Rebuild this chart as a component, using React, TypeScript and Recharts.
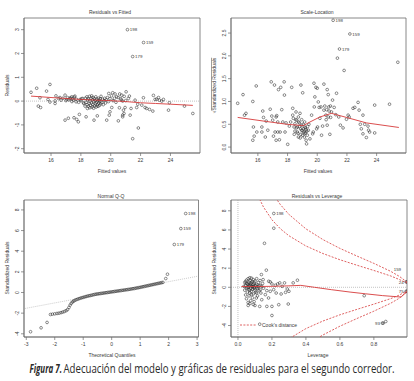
import React from 'react';
import { ScatterChart, Scatter, XAxis, YAxis, ReferenceLine, ReferenceArea } from 'recharts';

const FONT = '"Liberation Sans", Arial, Helvetica, sans-serif';
const TXT = '#3a3a3a';
const INK = '#2e2e2e';
const BOX = '#6a6a6a';
const RED = '#d63a3a';

// ---------- Residuals vs Fitted ----------
const rvfPoints: number[][] = [
  [14.66,0.37],[15.04,0.54],[15.26,0.14],[15.15,-0.21],[15.3,-0.27],[15.7,0.42],[15.93,0.7],[15.8,0.07],[15.93,-0.04],
  [16.27,0.01],[16.33,0.22],[16.5,0.11],[16.27,-0.1],[16.67,0.04],[16.94,-0.8],[17.16,-0.72],[16.94,0.25],[17.05,0.07],
  [17.27,0.1],[17.39,0.18],[17.5,0.04],[17.6,0.21],[17.54,-0.7],[17.72,-0.77],[17.83,-0.87],[17.9,-0.56],[17.68,-0.03],
  [17.95,0.07],[18.12,0.11],[18.17,-0.07],[18.28,-0.21],[18.35,-0.66],[18.44,-0.31],[18.88,-0.8],[19.1,-0.62],[19.73,-0.8],
  [19.9,-0.59],[19.95,-0.45],[20.07,-0.27],[19.87,0.32],[20.13,0.35],[20.29,0.3],[20.4,0.18],[20.51,-0.83],[20.58,-0.28],
  [20.67,0.1],[20.74,0.25],[20.8,0],[20.85,-0.38],[20.8,-0.66],[20.8,-0.59],[20.89,-0.52],[20.96,-0.27],[21.03,0.39],
  [21.18,0.11],[21.25,0.21],[21.3,-0.59],[21.36,-0.31],[21.47,-1.58],[21.63,0.04],[21.74,-0.27],[21.81,-0.13],[21.85,-1.13],
  [22.08,-0.17],[22.19,0.14],[22.3,-0.27],[22.41,-0.31],[22.6,-0.35],[22.82,-0.42],[22.86,0.24],[22.97,0.07],[23.08,0.08],
  [23.2,0.15],[23.26,0.04],[23.42,0],[23.53,0.07],[23.87,-0.38],[23.93,-0.07],[24.94,-0.21],[25.5,-0.52],
  [18.3,0.12],[18.35,-0.05],[18.4,0.18],[18.42,-0.15],[18.45,0.05],[18.5,-0.22],[18.5,0.1],[18.55,-0.1],[18.58,0.2],
  [18.6,-0.28],[18.62,0.0],[18.65,-0.18],[18.68,0.12],[18.7,-0.08],[18.72,0.22],[18.75,-0.25],[18.78,0.05],[18.8,-0.14],
  [18.82,0.15],[18.85,-0.3],[18.87,-0.02],[18.9,0.1],[18.92,-0.2],[18.95,0.02],[18.97,-0.12],[19.0,0.18],[19.02,-0.25],
  [19.05,-0.05],[19.08,0.08],[19.1,-0.16],[19.12,0.0],[19.15,-0.22],[19.18,0.12],[19.2,-0.08],[19.23,0.04],[19.25,-0.18],
  [19.28,-0.02],[19.3,0.1],[19.33,-0.12],[19.35,0.2],[19.4,-0.05],[19.45,0.08],[19.5,-0.15],[19.55,0.02],[19.6,0.12],
  [19.65,-0.08],[19.7,0.05],[19.78,0.15],[19.85,-0.02],[19.95,0.1],[20.05,0.22],[20.15,0.02],[20.25,0.12],[20.35,-0.05],
  [20.5,0.15],[20.6,0.3],[20.7,0.05],[20.9,0.2],[21.0,0.02],
  [16.6,0.15],[16.8,0.12],[17.0,0.02],[17.1,0.15],[17.2,0.05],[17.3,0.14],[17.4,-0.02],[17.45,0.1],[17.55,0.17],
  [17.7,0.08],[17.85,-0.05],[18.0,0.02],[18.05,0.1],[18.2,-0.1],
];
const rvfLabeled: (number | string)[][] = [[21.12, 3.0, '198'], [22.2, 2.46, '159'], [21.47, 1.87, '179']];
const rvfSmooth: number[][] = [[14.66,0.21],[16,0.15],[17,0.11],[18,0.07],[19,0.04],[20,0.02],[21,-0.02],[22,-0.07],[23,-0.1],[24,-0.13],[25.5,-0.18]];
const rvfXTicks = [16, 18, 20, 22, 24];
const rvfYTicks = [-2, -1, 0, 1, 2, 3];

// ---------- Scale-Location ----------
const slPoints: number[][] = [
  [14.64,0.96],[15.0,1.15],[15.1,0.7],[15.2,0.74],[15.66,1.0],[15.89,1.34],[15.7,0.44],[15.75,0.24],[15.66,0.15],[15.93,0.33],
  [16.27,0.44],[16.27,0.33],[16.33,0.79],[16.38,0.65],[16.5,0.22],[16.56,0.57],[16.67,0.37],[16.83,0.83],[16.9,1.43],[16.94,0.68],
  [17.0,0.59],[17.05,0.24],[17.12,1.36],[17.16,0.33],[17.23,0.15],[17.23,0.66],[17.27,0.69],[17.34,0.33],[17.34,0.55],[17.39,1.26],
  [17.45,0.16],[17.5,0.33],[17.54,1.31],[17.61,0.82],[17.68,0.55],[17.77,1.43],[17.79,1.14],[17.83,0.33],[17.9,0.53],[18.01,0.06],
  [18.12,0.46],[18.21,0.55],[18.28,1.31],[18.35,0.85],[18.35,0.7],[18.39,0.63],[18.44,0.44],[18.5,0.51],[18.57,0.77],[18.61,0.59],
  [18.66,0.33],[18.66,0.44],[18.73,0.66],[18.73,0.22],[18.79,0.53],[18.84,0.74],[18.88,0.4],[18.9,1.36],[18.95,0.37],[18.95,0.48],
  [19.02,0.26],[19.02,1.19],[19.06,0.4],[19.1,0.33],[19.13,0.22],[19.17,0.44],[19.22,0.31],[19.24,0.38],[19.28,0.07],[19.33,0.26],
  [19.4,0.37],[19.44,0.5],[19.51,0.18],[19.62,0.7],[19.69,0.29],[19.73,0.33],[19.78,1.4],[19.8,0.88],[19.84,1.1],[19.91,1.31],
  [19.96,0.4],[20.0,1.29],[20.02,0.44],[20.07,0.99],[20.13,0.87],[20.18,0.63],[20.25,0.88],[20.29,0.26],[20.36,0.46],[20.45,1.38],
  [20.45,0.81],[20.51,0.9],[20.58,0.7],[20.63,0.82],[20.67,1.26],[20.67,0.48],[20.74,1.15],[20.74,0.66],[20.78,0.88],[20.8,0.79],
  [20.85,0.28],[20.89,0.9],[20.96,0.77],[21.03,1.03],[21.14,0.87],[21.25,0.71],[21.3,1.18],[21.36,1.95],[21.45,0.66],[21.56,0.48],
  [21.74,0.42],[21.81,1.68],[21.97,0.61],[22.08,0.7],[22.15,0.66],[22.41,0.85],[22.53,0.87],[22.75,0.98],[22.82,0.81],[22.9,0.5],
  [22.97,0.4],[23.08,0.7],[23.08,0.29],[23.2,0.5],[23.31,0.21],[23.42,0.46],[23.46,0.37],[23.53,0.33],[23.87,0.92],[23.87,0.31],
  [24.87,0.94],[25.43,1.86],
  [18.5,0.35],[18.6,0.42],[18.7,0.3],[18.8,0.45],[18.9,0.28],[19.0,0.36],[19.05,0.5],[19.15,0.3],[19.2,0.42],[19.3,0.35],
  [18.55,0.6],[18.75,0.55],[18.95,0.6],[19.15,0.55],[19.35,0.45],[18.45,0.28],[18.85,0.2],[19.25,0.15],[20.6,0.6],[20.9,0.65],
];
const slLabeled: (number | string)[][] = [[21.07, 2.78, '198'], [22.2, 2.48, '159'], [21.5, 2.15, '179']];
const slSmooth: number[][] = [[14.64,0.65],[16.6,0.56],[17.95,0.5],[19.06,0.47],[19.51,0.55],[20.18,0.66],[20.96,0.74],[21.97,0.65],[23.31,0.53],[25.5,0.43]];
const slYTicks = [0, 0.5, 1, 1.5, 2, 2.5];

// ---------- Normal Q-Q ----------
const qqPoints: number[][] = [
  [-2.85,-3.8],[-2.48,-3.42],[-2.27,-2.9],[-2.15,-2.13],[-2.08,-2.1],[-2.0,-2.07],[-1.92,-2.03],[-1.85,-2.0],[-1.78,-1.95],
  [-1.72,-1.9],[-1.66,-1.84],[-1.6,-1.76],[-1.55,-1.66],[-1.5,-1.45],[-1.46,-1.22],[-1.42,-1.05],[-1.38,-0.93],[-1.34,-0.84],
  [-1.3,-0.77],[-1.25,-0.7],[-1.2,-0.65],[-1.15,-0.6],[-1.1,-0.55],[-1.05,-0.51],[-1.0,-0.47],[-0.95,-0.43],[-0.9,-0.39],
  [-0.85,-0.35],[-0.8,-0.32],[-0.75,-0.29],[-0.7,-0.26],[-0.65,-0.22],[-0.6,-0.19],[-0.55,-0.16],[-0.5,-0.14],[-0.45,-0.12],
  [-0.4,-0.1],[-0.35,-0.08],[-0.3,-0.06],[-0.25,-0.04],[-0.2,-0.02],[-0.15,0.0],[-0.1,0.02],[-0.05,0.04],[0,0.06],[0.05,0.08],
  [0.1,0.1],[0.15,0.12],[0.2,0.14],[0.25,0.16],[0.3,0.18],[0.35,0.2],[0.4,0.22],[0.45,0.24],[0.5,0.26],[0.55,0.28],[0.6,0.3],
  [0.65,0.32],[0.7,0.35],[0.75,0.37],[0.8,0.39],[0.85,0.42],[0.9,0.45],[0.95,0.47],[1.0,0.5],[1.05,0.53],[1.1,0.56],[1.15,0.59],
  [1.2,0.62],[1.25,0.65],[1.3,0.68],[1.35,0.71],[1.4,0.74],[1.45,0.77],[1.5,0.8],[1.55,0.83],[1.6,0.86],[1.65,0.89],[1.7,0.92],
  [1.75,0.95],[1.8,0.98],[1.9,1.35],[1.96,1.77],
];
const qqLabeled: (number | string)[][] = [[2.6, 7.65, '198'], [2.43, 6.19, '159'], [2.2, 4.65, '179']];
const qqLine: number[][] = [[-3.05, -1.55], [3.03, 1.58]];
const qqXTicks = [-3, -2, -1, 0, 1, 2, 3];
const stdYTicks = [-4, -2, 0, 2, 4, 6, 8];

// ---------- Residuals vs Leverage ----------
const levPoints: number[][] = [
  [0.211,6.18],[0.156,4.6],[0.167,1.79],[0.181,0.63],[0.19,0.56],[0.138,1.33],[0.148,0.8],[0.2,0.35],[0.22,0.21],[0.234,0.35],
  [0.246,0.46],[0.26,0.1],[0.274,0.46],[0.29,-0.18],[0.3,-0.42],[0.28,-0.53],[0.254,-0.7],[0.225,-0.6],[0.21,-0.25],[0.19,-0.42],
  [0.17,-0.35],[0.161,-0.77],[0.18,-1.12],[0.17,-2.0],[0.2,-2.0],[0.24,-1.82],[0.296,-1.75],[0.2,-2.95],[0.128,-3.86],[0.325,0.46],
  [0.35,0.74],[0.743,-0.88],[0.855,-3.75],[0.87,-3.58],[0.112,-0.07],[0.122,0.17],[0.132,-0.25],[0.108,-1.12],[0.128,-2.0],
  [0.035,0.1],[0.04,-0.3],[0.04,0.5],[0.045,-0.8],[0.045,0.2],[0.05,0.75],[0.05,-0.1],[0.05,-1.2],[0.055,0.35],[0.055,-0.5],
  [0.06,0.9],[0.06,0.0],[0.06,-1.6],[0.065,0.55],[0.065,-0.25],[0.065,-0.9],[0.07,0.2],[0.07,0.7],[0.07,-0.6],[0.075,0.4],
  [0.075,-0.1],[0.075,-1.4],[0.08,0.95],[0.08,0.1],[0.08,-0.4],[0.085,0.6],[0.085,-0.2],[0.085,-1.1],[0.09,0.3],[0.09,-0.7],
  [0.09,0.8],[0.095,0.0],[0.095,0.45],[0.1,-0.3],[0.1,0.65],[0.1,-1.9],[0.105,0.15],[0.105,-0.5],[0.11,0.9],[0.11,0.3],
  [0.115,-0.15],[0.115,-0.9],[0.12,0.5],[0.12,0.05],[0.125,-0.35],[0.13,0.7],[0.13,0.2],[0.135,-0.6],[0.14,0.1],[0.14,-1.3],
  [0.145,0.4],[0.15,-0.1],[0.06,0.3],[0.07,-0.3],[0.08,0.5],[0.09,0.1],[0.1,0.2],[0.065,0.15],[0.075,0.25],[0.085,0.05],
  [0.095,-0.1],[0.055,-0.05],[0.045,0.6],[0.05,0.4],[0.07,1.0],[0.08,-0.75],[0.095,-1.5],[0.11,-0.6],[0.06,-1.9],[0.07,-1.7],
  [0.09,-1.8],[0.995,0.56],[0.995,-0.42],
];
const levLabeled: (number | string)[][] = [[0.211, 7.72, '198', 'r'], [0.96, 1.9, '159', 't'], [0.99, 0.56, '24', 'l'], [0.99, -0.42, '75', 'l'], [0.85, -3.75, '93', 'l']];
const levSmooth: number[][] = [[0.02,0.08],[0.1,0.08],[0.2,0.1],[0.3,0.15],[0.37,0.2],[0.45,0.0],[0.55,-0.25],[0.66,-0.5],[0.75,-0.68],[0.85,-0.87],[0.96,-1.02],[0.995,-0.45]];
const cookHalfUp: number[][] = [[0.12,9.55],[0.13,9.13],[0.15,8.4],[0.2,7.06],[0.25,6.11],[0.3,5.39],[0.4,4.32],[0.5,3.53],[0.6,2.88],[0.7,2.31],[0.8,1.76],[0.9,1.18],[0.95,0.81],[0.995,0.45]];
const cookOneUp: number[][] = [[0.2,9.98],[0.22,9.4],[0.25,8.64],[0.3,7.62],[0.4,6.11],[0.5,4.99],[0.6,4.07],[0.7,3.27],[0.8,2.5],[0.9,1.66],[0.95,1.14],[0.995,0.55]];
const cookHalfDown: number[][] = [[0.29,-5.55],[0.3,-5.39],[0.4,-4.32],[0.5,-3.53],[0.6,-2.88],[0.7,-2.31],[0.8,-1.76],[0.9,-1.18],[0.95,-0.81],[0.995,-0.38]];
const cookOneDown: number[][] = [[0.45,-5.52],[0.5,-4.99],[0.6,-4.07],[0.7,-3.27],[0.8,-2.5],[0.9,-1.66],[0.95,-1.14],[0.995,-0.45]];
const levXTicks = [0, 0.2, 0.4, 0.6, 0.8];

// ---------- helpers ----------
const pts = (a: number[][]) => a.map(([x, y]) => ({ x, y }));
const lab = (a: (number | string)[][]) => a.map(([x, y, id, side]) => ({ x, y, id, side: side || 'r' }));

const Ring = (p: any) => (
  <circle cx={p.cx} cy={p.cy} r={1.35} fill="none" stroke={INK} strokeWidth={0.55} />
);
const Nothing = () => <g />;
const LabeledRing = (p: any) => {
  const side = p.payload.side;
  if (side === 't') {
    return (
      <text x={p.cx} y={p.cy + 1.6} fontSize={4.4} fill={TXT} fontFamily={FONT} textAnchor="end">{p.payload.id}</text>
    );
  }
  const left = side === 'l';
  return (
    <g>
      <circle cx={p.cx} cy={p.cy} r={1.35} fill="none" stroke={INK} strokeWidth={0.55} />
      <text x={p.cx + (left ? -2.4 : 2.4)} y={p.cy + 1.6} fontSize={4.4} fill={TXT} fontFamily={FONT} textAnchor={left ? 'end' : 'start'}>{p.payload.id}</text>
    </g>
  );
};

const xTick = (fmt: (v: number) => string) => (p: any) => (
  <text x={p.x} y={p.y} dy={4.2} textAnchor="middle" fontSize={5} fill={TXT} fontFamily={FONT}>{fmt(p.payload.value)}</text>
);
const yTick = (fmt: (v: number) => string) => (p: any) => (
  <text x={p.x} y={p.y} transform={`rotate(-90 ${p.x} ${p.y})`} textAnchor="middle" fontSize={5} fill={TXT} fontFamily={FONT}>{fmt(p.payload.value)}</text>
);
const plain = (v: number) => String(v);
const one = (v: number) => v.toFixed(1);

const frame = (xd: number[], yd: number[], xt: number[], yt: number[], xf: (v: number) => string, yf: (v: number) => string, xh: number) => [
  <XAxis key="xa" type="number" dataKey="x" domain={xd} ticks={xt} interval={0} allowDataOverflow height={xh}
    tickSize={3} tickMargin={2} axisLine={{ stroke: BOX, strokeWidth: 0.7 }} tickLine={{ stroke: BOX, strokeWidth: 0.7 }} tick={xTick(xf)} />,
  <YAxis key="ya" type="number" dataKey="y" domain={yd} ticks={yt} interval={0} allowDataOverflow width={24}
    tickSize={3} tickMargin={2} axisLine={{ stroke: BOX, strokeWidth: 0.7 }} tickLine={{ stroke: BOX, strokeWidth: 0.7 }} tick={yTick(yf)} />,
  <ReferenceArea key="box" x1={xd[0]} x2={xd[1]} y1={yd[0]} y2={yd[1]} fill="none" fillOpacity={0} stroke={BOX} strokeWidth={0.8} ifOverflow="visible" />,
];

const abs = (left: number, top: number): React.CSSProperties => ({ position: 'absolute', left, top });

const T = (props: any) => (
  <text fontSize={5} fill={TXT} fontFamily={FONT} textAnchor="middle" dominantBaseline="central" {...props} />
);

const CAP_FONT = '"Open Sans", "Noto Sans", sans-serif';

export default function App() {
  const fitX = [14.19, 25.98];
  return (
    <div style={{ position: 'absolute', left: 0, top: 0, width: 414, height: 381, background: '#fff', overflow: 'hidden' }}>
      {/* Residuals vs Fitted */}
      <div style={abs(0, 0)}>
        <ScatterChart width={207} height={175} margin={{ top: 18, right: 7, bottom: 0, left: 0 }}>
          {frame(fitX, [-2.18, 3.49], rvfXTicks, rvfYTicks, plain, plain, 22)}
          <ReferenceLine y={0} stroke="#9a9a9a" strokeDasharray="1 1" strokeWidth={0.6} />
          <Scatter data={pts(rvfPoints)} shape={Ring} isAnimationActive={false} />
          <Scatter data={lab(rvfLabeled)} shape={LabeledRing} isAnimationActive={false} />
          <Scatter data={pts(rvfSmooth)} shape={Nothing} line={{ stroke: RED, strokeWidth: 0.9 }} isAnimationActive={false} />
        </ScatterChart>
      </div>
      {/* Scale-Location */}
      <div style={abs(207, 0)}>
        <ScatterChart width={207} height={175} margin={{ top: 18, right: 8, bottom: 0, left: 0 }}>
          {frame(fitX, [-0.13, 2.83], rvfXTicks, slYTicks, plain, one, 22)}
          <Scatter data={pts(slPoints)} shape={Ring} isAnimationActive={false} />
          <Scatter data={lab(slLabeled)} shape={LabeledRing} isAnimationActive={false} />
          <Scatter data={pts(slSmooth)} shape={Nothing} line={{ stroke: RED, strokeWidth: 0.9 }} isAnimationActive={false} />
        </ScatterChart>
      </div>
      {/* Normal Q-Q */}
      <div style={abs(0, 190)}>
        <ScatterChart width={207} height={160} margin={{ top: 10, right: 8.5, bottom: 0, left: 0 }}>
          {frame([-3.08, 3.05], [-4.31, 8.96], qqXTicks, stdYTicks, plain, plain, 13)}
          <Scatter data={pts(qqLine)} shape={Nothing} line={{ stroke: '#a8a8a8', strokeWidth: 0.6, strokeDasharray: '1 1' }} isAnimationActive={false} />
          <Scatter data={pts(qqPoints)} shape={Ring} isAnimationActive={false} />
          <Scatter data={lab(qqLabeled)} shape={LabeledRing} isAnimationActive={false} />
        </ScatterChart>
      </div>
      {/* Residuals vs Leverage */}
      <div style={abs(207, 190)}>
        <ScatterChart width={207} height={160} margin={{ top: 10, right: 7, bottom: 0, left: 0 }}>
          {frame([-0.041, 0.995], [-5.2, 9.13], levXTicks, stdYTicks, one, plain, 13)}
          <ReferenceLine y={0} stroke="#9a9a9a" strokeDasharray="1 1" strokeWidth={0.6} />
          <ReferenceLine x={0} stroke="#9a9a9a" strokeDasharray="1 1" strokeWidth={0.6} />
          <Scatter data={pts(levPoints)} shape={Ring} isAnimationActive={false} />
          <Scatter data={lab(levLabeled)} shape={LabeledRing} isAnimationActive={false} />
          <Scatter data={pts(levSmooth)} shape={Nothing} line={{ stroke: RED, strokeWidth: 0.9 }} isAnimationActive={false} />
          <Scatter data={pts(cookHalfUp)} shape={Nothing} line={{ stroke: RED, strokeWidth: 0.8, strokeDasharray: '2 1.4' }} isAnimationActive={false} />
          <Scatter data={pts(cookOneUp)} shape={Nothing} line={{ stroke: RED, strokeWidth: 0.8, strokeDasharray: '2 1.4' }} isAnimationActive={false} />
          <Scatter data={pts(cookHalfDown)} shape={Nothing} line={{ stroke: RED, strokeWidth: 0.8, strokeDasharray: '2 1.4' }} isAnimationActive={false} />
          <Scatter data={pts(cookOneDown)} shape={Nothing} line={{ stroke: RED, strokeWidth: 0.8, strokeDasharray: '2 1.4' }} isAnimationActive={false} />
        </ScatterChart>
      </div>
      {/* titles, axis labels, legend, caption */}
      <svg width={414} height={381} style={{ position: 'absolute', left: 0, top: 0, pointerEvents: 'none' }}>
        <T x={110} y={12.3}>Residuals vs Fitted</T>
        <T x={112} y={170.7}>Fitted values</T>
        <T x={7.3} y={85.5} transform="rotate(-90 7.3 85.5)">Residuals</T>

        <T x={317} y={12.3}>Scale-Location</T>
        <T x={318} y={170.7}>Fitted values</T>
        <T x={214} y={85.5} transform="rotate(-90 214 85.5)">
          {'√'}<tspan style={{ textDecoration: 'overline' }}>Standardized Residuals</tspan>
        </T>

        <T x={111} y={196}>Normal Q-Q</T>
        <T x={112} y={355}>Theoretical Quantiles</T>
        <T x={7} y={268} transform="rotate(-90 7 268)">Standardized Residuals</T>

        <T x={317} y={196}>Residuals vs Leverage</T>
        <T x={318} y={355}>Leverage</T>
        <T x={214} y={268} transform="rotate(-90 214 268)">Standardized Residuals</T>

        <line x1={240} y1={325} x2={257} y2={325} stroke={RED} strokeWidth={0.8} strokeDasharray="2 1.4" />
        <text x={262} y={326.7} fontSize={5} fill={TXT} fontFamily={FONT}>Cook's distance</text>

        <g transform="translate(29.5 373.3) scale(0.55 1)">
          <text x={0} y={0} fontSize={12} fill="#2a2a2a" fontFamily={CAP_FONT} fontWeight="bold" fontStyle="italic"
            textLength={59} lengthAdjust="spacingAndGlyphs">Figura 7.</text>
        </g>
        <g transform="translate(63.5 373.3) scale(0.76 1)">
          <text x={0} y={0} fontSize={12} fill="#2a2a2a" fontFamily={CAP_FONT}
            textLength={435.5} lengthAdjust="spacingAndGlyphs">Adecuación del modelo y gráficas de residuales para el segundo corredor.</text>
        </g>
      </svg>
    </div>
  );
}
